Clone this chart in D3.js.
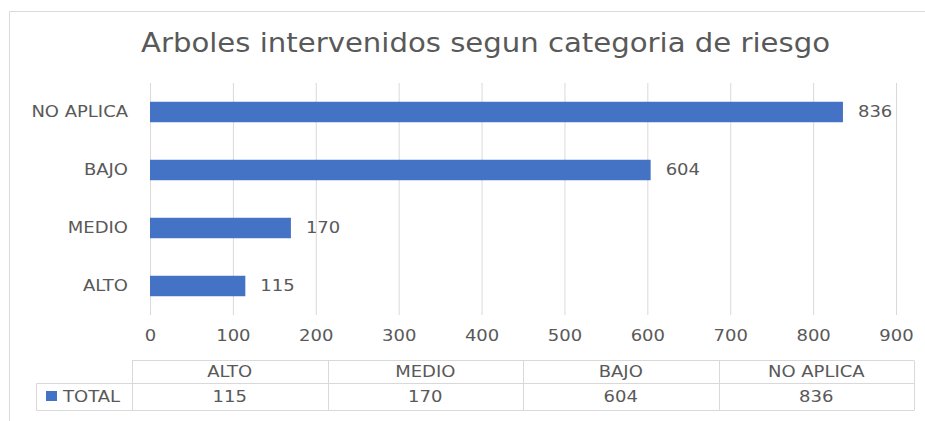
<!DOCTYPE html>
<html>
<head>
<meta charset="utf-8">
<script src="https://cdn.jsdelivr.net/npm/d3@7"></script>
<style>
  html, body { margin: 0; padding: 0; background: #ffffff; }
  svg { display: block; }
  text { font-family: "DejaVu Sans", sans-serif; fill: #595959; }
</style>
</head>
<body>
<svg id="chart" width="925" height="421"></svg>
<script>
const title = "Arboles intervenidos segun categoria de riesgo";
const categories = ["ALTO", "MEDIO", "BAJO", "NO APLICA"];
const values = [115, 170, 604, 836];
const seriesName = "TOTAL";
const xTicks = [0, 100, 200, 300, 400, 500, 600, 700, 800, 900];

const W = 925, H = 421;
const plot = { left: 150, right: 896, top: 83, bottom: 315 };
const table = { left: 132, right: 914, labelLeft: 36.5, top: 360.5, mid: 383.5, bottom: 410.5 };
const barColor = "#4472c4";
const gridColor = "#d9d9d9";
const SX = 1.2;

const svg = d3.select("#chart");

function stretch(sel) {
  sel.each(function () {
    const t = d3.select(this);
    const x = +t.attr("x") || 0;
    const y = +t.attr("y") || 0;
    t.attr("x", 0).attr("y", 0).attr("transform", `translate(${x},${y}) scale(${SX},1)`);
  });
}

// outer frame (top and left edges visible)
svg.append("line").attr("x1", 9.5).attr("x2", W).attr("y1", 11.5).attr("y2", 11.5)
  .attr("stroke", gridColor).attr("stroke-width", 1);
svg.append("line").attr("x1", 9.5).attr("x2", 9.5).attr("y1", 11.5).attr("y2", H)
  .attr("stroke", gridColor).attr("stroke-width", 1);

// title
svg.append("text")
  .attr("x", 485.5).attr("y", 52)
  .attr("text-anchor", "middle")
  .attr("font-size", 26)
  .attr("textLength", 689)
  .attr("lengthAdjust", "spacingAndGlyphs")
  .text(title);

const x = d3.scaleLinear().domain([0, 900]).range([plot.left, plot.right]);
const y = d3.scaleBand()
  .domain(categories.slice().reverse())
  .range([plot.top, plot.bottom])
  .paddingInner(0.647)
  .paddingOuter(0.3235);

// x axis with gridlines
const xAxis = svg.append("g")
  .attr("transform", `translate(0,${plot.bottom})`)
  .call(d3.axisBottom(x).tickValues(xTicks).tickSize(-(plot.bottom - plot.top)).tickPadding(15).tickFormat(d3.format("d")));
xAxis.select(".domain").remove();
xAxis.selectAll(".tick line").attr("stroke", gridColor).attr("stroke-width", 1);
xAxis.selectAll(".tick text").attr("font-size", 15).attr("fill", "#595959").call(stretch);

// y axis labels
const yAxis = svg.append("g")
  .attr("transform", `translate(${plot.left},0)`)
  .call(d3.axisLeft(y).tickSize(0).tickPadding(22));
yAxis.select(".domain").remove();
yAxis.selectAll(".tick text").attr("font-size", 15).attr("fill", "#595959").call(stretch);

const data = categories.map((c, i) => ({ cat: c, value: values[i] }));

// bars
svg.append("g").selectAll("rect").data(data).join("rect")
  .attr("x", x(0))
  .attr("y", d => y(d.cat))
  .attr("width", d => x(d.value) - x(0))
  .attr("height", y.bandwidth())
  .attr("fill", barColor);

// data labels
svg.append("g").selectAll("text").data(data).join("text")
  .attr("x", d => x(d.value) + 15)
  .attr("y", d => y(d.cat) + y.bandwidth() / 2)
  .attr("dy", "0.36em")
  .attr("font-size", 15)
  .text(d => d.value)
  .call(stretch);

// data table
const col = d3.scaleBand().domain(categories).range([table.left, table.right]);
const tg = svg.append("g");
const lineAttr = s => s.attr("stroke", gridColor).attr("stroke-width", 1);

// horizontal lines
tg.append("line").attr("x1", table.left).attr("x2", table.right).attr("y1", table.top).attr("y2", table.top).call(lineAttr);
tg.append("line").attr("x1", table.labelLeft).attr("x2", table.right).attr("y1", table.mid).attr("y2", table.mid).call(lineAttr);
tg.append("line").attr("x1", table.labelLeft).attr("x2", table.right).attr("y1", table.bottom).attr("y2", table.bottom).call(lineAttr);
// vertical lines
tg.append("line").attr("x1", table.labelLeft).attr("x2", table.labelLeft).attr("y1", table.mid).attr("y2", table.bottom).call(lineAttr);
const vx = categories.map(c => col(c)).concat([table.right]);
tg.selectAll("line.v").data(vx).join("line").attr("class", "v")
  .attr("x1", d => Math.round(d) + 0.5).attr("x2", d => Math.round(d) + 0.5)
  .attr("y1", table.top).attr("y2", table.bottom).call(lineAttr);

// header texts
tg.selectAll("text.h").data(categories).join("text").attr("class", "h")
  .attr("x", d => col(d) + col.bandwidth() / 2)
  .attr("y", (table.top + table.mid) / 2)
  .attr("dy", "0.36em")
  .attr("text-anchor", "middle")
  .attr("font-size", 15)
  .text(d => d)
  .call(stretch);

// value texts
tg.selectAll("text.v").data(data).join("text").attr("class", "v")
  .attr("x", d => col(d.cat) + col.bandwidth() / 2)
  .attr("y", (table.mid + table.bottom) / 2)
  .attr("dy", "0.36em")
  .attr("text-anchor", "middle")
  .attr("font-size", 15)
  .text(d => d.value)
  .call(stretch);

// legend key + series name
tg.append("rect").attr("x", 46).attr("y", 391).attr("width", 11).attr("height", 10).attr("fill", barColor);
tg.append("text")
  .attr("x", 63).attr("y", (table.mid + table.bottom) / 2)
  .attr("dy", "0.36em")
  .attr("font-size", 15)
  .text(seriesName)
  .call(stretch);
</script>
</body>
</html>
